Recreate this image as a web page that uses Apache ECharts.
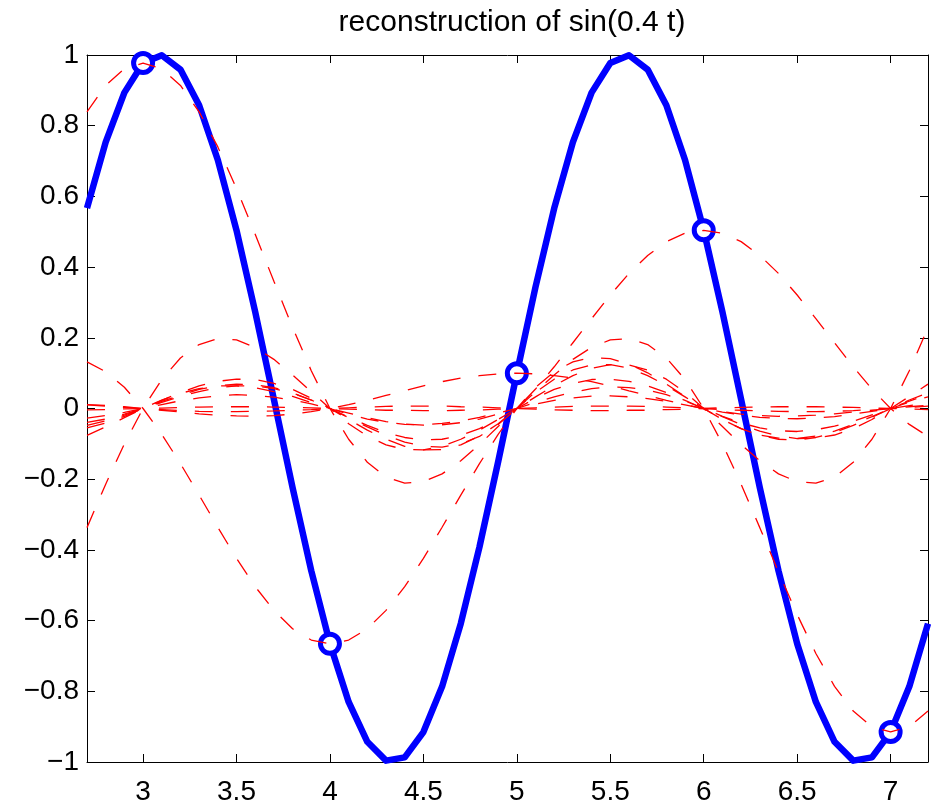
<!DOCTYPE html>
<html><head><meta charset="utf-8">
<script src="https://cdn.jsdelivr.net/npm/echarts@6/dist/echarts.min.js"></script>
<style>html,body{margin:0;padding:0;background:#fff}#chart{width:937px;height:804px}</style>
</head><body><div id="chart"></div>
<script>
// time grid (shared by all curves)
const t = [2.7, 2.8, 2.9,
  3.0, 3.1, 3.2, 3.3, 3.4, 3.5, 3.6, 3.7, 3.8, 3.9,
  4.0, 4.1, 4.2, 4.3, 4.4, 4.5, 4.6, 4.7, 4.8, 4.9,
  5.0, 5.1, 5.2, 5.3, 5.4, 5.5, 5.6, 5.7, 5.8, 5.9,
  6.0, 6.1, 6.2, 6.3, 6.4, 6.5, 6.6, 6.7, 6.8, 6.9,
  7.0, 7.1, 7.2];

// continuous signal (thick blue)
const signal = [0.5668, 0.7537, 0.8936,
  0.9772, 0.9993, 0.9587, 0.8579, 0.7030, 0.5041, 0.2734, 0.0257, -0.2238, -0.4591,
  -0.6656, -0.8302, -0.9428, -0.9961, -0.9868, -0.9154, -0.7867, -0.6084, -0.3918, -0.1507,
  0.0998, 0.3442, 0.5668, 0.7537, 0.8936, 0.9772, 0.9993, 0.9587, 0.8579, 0.7030,
  0.5041, 0.2734, 0.0257, -0.2238, -0.4591, -0.6656, -0.8302, -0.9428, -0.9961, -0.9868,
  -0.9154, -0.7867, -0.6084];

// samples (circles)
const sampleT = [3, 4, 5, 6, 7];
const sampleV = [0.9772, -0.6656, 0.0998, 0.5041, -0.9154];

// reconstruction components (red dashed), one per sample index 0..10
const comp0 = [0.010, 0.007, 0.003,
  0, -0.003, -0.006, -0.008, -0.009, -0.009, -0.008, -0.007, -0.005, -0.003,
  0, 0.002, 0.004, 0.006, 0.007, 0.007, 0.007, 0.005, 0.004, 0.002,
  0, -0.002, -0.004, -0.005, -0.006, -0.006, -0.005, -0.005, -0.003, -0.002,
  0, 0.002, 0.003, 0.004, 0.005, 0.005, 0.005, 0.004, 0.003, 0.001,
  0, -0.001, -0.003];
const comp1 = [-0.076, -0.052, -0.026,
  0, 0.024, 0.043, 0.056, 0.064, 0.064, 0.059, 0.048, 0.034, 0.017,
  0, -0.016, -0.030, -0.039, -0.045, -0.046, -0.042, -0.035, -0.025, -0.013,
  0, 0.012, 0.023, 0.030, 0.035, 0.036, 0.033, 0.028, 0.020, 0.010,
  0, -0.010, -0.018, -0.025, -0.028, -0.029, -0.027, -0.023, -0.016, -0.008,
  0, 0.008, 0.015];
const comp2 = [-0.337, -0.214, -0.100,
  0, 0.082, 0.143, 0.181, 0.198, 0.194, 0.173, 0.139, 0.095, 0.047,
  0, -0.043, -0.078, -0.103, -0.116, -0.117, -0.107, -0.087, -0.061, -0.031,
  0, 0.029, 0.054, 0.071, 0.082, 0.083, 0.077, 0.064, 0.045, 0.023,
  0, -0.022, -0.041, -0.055, -0.063, -0.065, -0.060, -0.050, -0.036, -0.018,
  0, 0.018, 0.033];
const comp3 = [0.839, 0.914, 0.961,
  0.977, 0.961, 0.914, 0.839, 0.740, 0.622, 0.493, 0.360, 0.229, 0.107,
  0, -0.087, -0.152, -0.194, -0.211, -0.207, -0.185, -0.148, -0.102, -0.051,
  0, 0.046, 0.083, 0.109, 0.123, 0.124, 0.114, 0.093, 0.065, 0.033,
  0, -0.031, -0.057, -0.076, -0.087, -0.089, -0.082, -0.068, -0.048, -0.025,
  0, 0.024, 0.044];
const comp4 = [0.132, 0.104, 0.060,
  0, -0.073, -0.156, -0.245, -0.336, -0.424, -0.504, -0.571, -0.623, -0.655,
  -0.666, -0.655, -0.623, -0.571, -0.504, -0.424, -0.336, -0.245, -0.156, -0.073,
  0, 0.060, 0.104, 0.132, 0.144, 0.141, 0.126, 0.101, 0.069, 0.034,
  0, -0.031, -0.057, -0.075, -0.084, -0.085, -0.078, -0.064, -0.045, -0.023,
  0, 0.021, 0.039];
const comp5 = [0.011, 0.009, 0.005,
  0, -0.005, -0.010, -0.015, -0.019, -0.021, -0.022, -0.020, -0.016, -0.009,
  0, 0.011, 0.023, 0.037, 0.050, 0.064, 0.076, 0.086, 0.093, 0.098,
  0.100, 0.098, 0.093, 0.086, 0.076, 0.064, 0.050, 0.037, 0.023, 0.011,
  0, -0.009, -0.016, -0.020, -0.022, -0.021, -0.019, -0.015, -0.010, -0.005,
  0, 0.005, 0.009];
const comp6 = [-0.039, -0.030, -0.016,
  0, 0.017, 0.034, 0.048, 0.059, 0.064, 0.064, 0.056, 0.043, 0.024,
  0, -0.026, -0.052, -0.076, -0.095, -0.107, -0.109, -0.100, -0.079, -0.045,
  0, 0.055, 0.118, 0.186, 0.254, 0.321, 0.382, 0.433, 0.472, 0.496,
  0.504, 0.496, 0.472, 0.433, 0.382, 0.321, 0.254, 0.186, 0.118, 0.055,
  0, -0.045, -0.079];
const comp7 = [-0.055, -0.041, -0.022,
  0, 0.023, 0.045, 0.064, 0.077, 0.083, 0.082, 0.071, 0.054, 0.029,
  0, -0.031, -0.061, -0.087, -0.107, -0.117, -0.116, -0.103, -0.078, -0.043,
  0, 0.047, 0.095, 0.139, 0.173, 0.194, 0.198, 0.181, 0.143, 0.082,
  0, -0.100, -0.214, -0.337, -0.462, -0.583, -0.693, -0.786, -0.856, -0.900,
  -0.915, -0.900, -0.856];
const comp8 = [-0.048, -0.035, -0.019,
  0, 0.020, 0.038, 0.054, 0.064, 0.069, 0.067, 0.059, 0.044, 0.024,
  0, -0.025, -0.048, -0.068, -0.082, -0.089, -0.087, -0.076, -0.057, -0.031,
  0, 0.033, 0.065, 0.093, 0.114, 0.124, 0.123, 0.109, 0.083, 0.046,
  0, -0.051, -0.102, -0.148, -0.185, -0.207, -0.211, -0.194, -0.152, -0.087,
  0, 0.107, 0.229];
const comp9 = [-0.027, -0.020, -0.011,
  0, 0.011, 0.022, 0.030, 0.036, 0.039, 0.037, 0.032, 0.024, 0.013,
  0, -0.013, -0.026, -0.037, -0.044, -0.047, -0.046, -0.040, -0.030, -0.016,
  0, 0.017, 0.033, 0.046, 0.056, 0.061, 0.059, 0.052, 0.039, 0.021,
  0, -0.023, -0.045, -0.064, -0.078, -0.085, -0.084, -0.075, -0.057, -0.031,
  0, 0.034, 0.069];
const comp10 = [-0.004, -0.003, -0.001,
  0, 0.001, 0.003, 0.004, 0.005, 0.005, 0.005, 0.004, 0.003, 0.002,
  0, -0.002, -0.003, -0.005, -0.005, -0.006, -0.006, -0.005, -0.004, -0.002,
  0, 0.002, 0.004, 0.006, 0.007, 0.007, 0.007, 0.006, 0.004, 0.002,
  0, -0.003, -0.005, -0.007, -0.008, -0.009, -0.009, -0.008, -0.006, -0.003,
  0, 0.003, 0.007];

const components = [comp0, comp1, comp2, comp3, comp4, comp5, comp6, comp7, comp8, comp9, comp10];

const titleText = 'reconstruction of sin(0.4 t)';
const FONT = '"Liberation Sans", Arial, Helvetica, sans-serif';

const pair = arr => t.map((x, i) => [x, arr[i]]);

const chart = echarts.init(document.getElementById('chart'), null, {renderer: 'canvas'});

const xCommon = {
  type: 'value', min: 2.7, max: 7.2, splitNumber: 9, minInterval: 0.5, maxInterval: 0.5,
  axisLine: {show: true, onZero: false, lineStyle: {color: '#000', width: 1}},
  axisTick: {show: true, inside: true, length: 8, lineStyle: {color: '#000', width: 1}},
  splitLine: {show: false}
};
const yCommon = {
  type: 'value', min: -1, max: 1, interval: 0.2,
  axisLine: {show: true, onZero: false, lineStyle: {color: '#000', width: 1}},
  axisTick: {show: true, inside: true, length: 8, lineStyle: {color: '#000', width: 1}},
  splitLine: {show: false}
};

const series = [
  {
    type: 'line', name: 'signal', data: pair(signal), xAxisIndex: 0, yAxisIndex: 0,
    showSymbol: false, symbol: 'none', z: 2,
    lineStyle: {color: '#0000ff', width: 6.5, join: 'round'}
  },
  {
    type: 'scatter', name: 'samples', data: sampleT.map((x, i) => [x, sampleV[i]]),
    xAxisIndex: 0, yAxisIndex: 0, symbol: 'circle', symbolSize: 19, z: 3,
    itemStyle: {color: '#ffffff', borderColor: '#0000ff', borderWidth: 5, opacity: 1}
  }
];
components.forEach((c, k) => {
  series.push({
    type: 'line', name: 'comp' + k, data: pair(c), xAxisIndex: 0, yAxisIndex: 0,
    showSymbol: false, symbol: 'none', z: 4,
    lineStyle: {color: '#ff0000', width: 1.3, type: [18, 18]}
  });
});

chart.setOption({
  animation: false,
  backgroundColor: '#ffffff',
  title: {
    text: titleText, left: 507, top: 3, textAlign: 'center',
    textStyle: {fontFamily: FONT, fontSize: 30, fontWeight: 'normal', color: '#000'}
  },
  grid: {left: 87, right: 9, top: 55, bottom: 42, containLabel: false, outerBoundsMode: 'none'},
  xAxis: [
    Object.assign({}, xCommon, {
      position: 'bottom',
      axisLabel: {
        show: true, margin: 16, color: '#000', fontFamily: FONT, fontSize: 28,
        showMinLabel: false, showMaxLabel: false,
        formatter: v => (Math.abs(v * 2 - Math.round(v * 2)) < 1e-6) ? String(Math.round(v * 10) / 10) : ''
      }
    }),
    Object.assign({}, xCommon, {position: 'top', axisLabel: {show: false}})
  ],
  yAxis: [
    Object.assign({}, yCommon, {
      position: 'left',
      axisLabel: {
        show: true, margin: 8, color: '#000', fontFamily: FONT, fontSize: 28,
        formatter: v => String(Math.round(v * 10) / 10).replace('-', '\u2212')
      }
    }),
    Object.assign({}, yCommon, {position: 'right', axisLabel: {show: false}})
  ],
  series: series
});
</script>
</body></html>
